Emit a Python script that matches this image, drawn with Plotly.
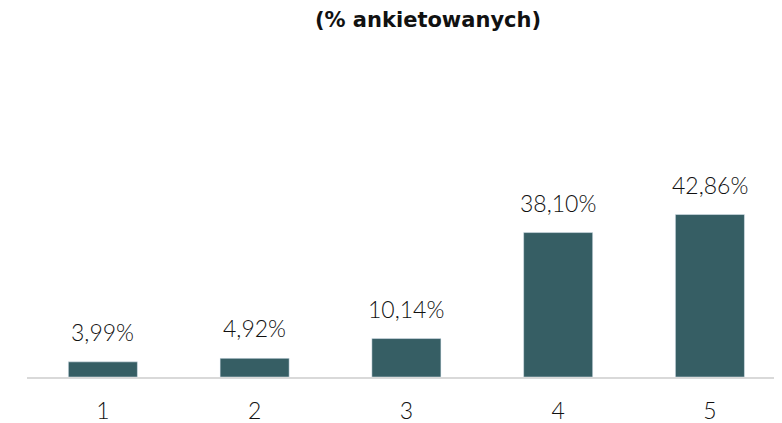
import plotly.graph_objects as go

categories = ["1", "2", "3", "4", "5"]
values = [3.99, 4.92, 10.14, 38.10, 42.86]
labels = ["3,99%", "4,92%", "10,14%", "38,10%", "42,86%"]

FONT = "Century Gothic, 'URW Gothic', Lato, sans-serif"
TITLE_FONT = "Century Gothic, 'DejaVu Sans', sans-serif"

# page body has an 8px margin, so the figure is 8px smaller on each used side
W, H = 774, 415
OFF = 8

xs = list(range(len(categories)))

fig = go.Figure(go.Bar(
    x=xs,
    y=values,
    marker=dict(color="#365E64"),
    width=0.455,
    hoverinfo="skip",
))

for xi, v, lab in zip(xs, values, labels):
    fig.add_annotation(
        x=xi, y=v, text=lab, showarrow=False, xanchor="center", yanchor="bottom",
        yshift=14, font=dict(family=FONT, size=23, color="#111111", weight=300),
    )

fig.update_layout(
    width=W, height=H,
    margin=dict(l=27 - OFF, r=0, t=32, b=46),
    paper_bgcolor="white", plot_bgcolor="white",
    font=dict(family=FONT, color="#111111"),
    title=dict(text="<b>(% ankietowanych)</b>", x=(428 - OFF) / W, xanchor="center",
               xref="container", y=1 - 4 / H, yanchor="top", yref="container",
               font=dict(family=TITLE_FONT, size=21, color="#111111")),
    showlegend=False,
)
fig.update_xaxes(
    tickmode="array", tickvals=xs, ticktext=categories,
    range=[-0.5, 4.475], showline=True, linecolor="#d9d9d9", linewidth=2,
    ticks="", tickfont=dict(family=FONT, size=23, color="#111111", weight=300),
    ticklabelstandoff=12,
    showgrid=False, zeroline=False,
)
fig.update_yaxes(range=[0, 88.9], visible=False, showgrid=False, zeroline=False)

fig.write_html("out.html")
